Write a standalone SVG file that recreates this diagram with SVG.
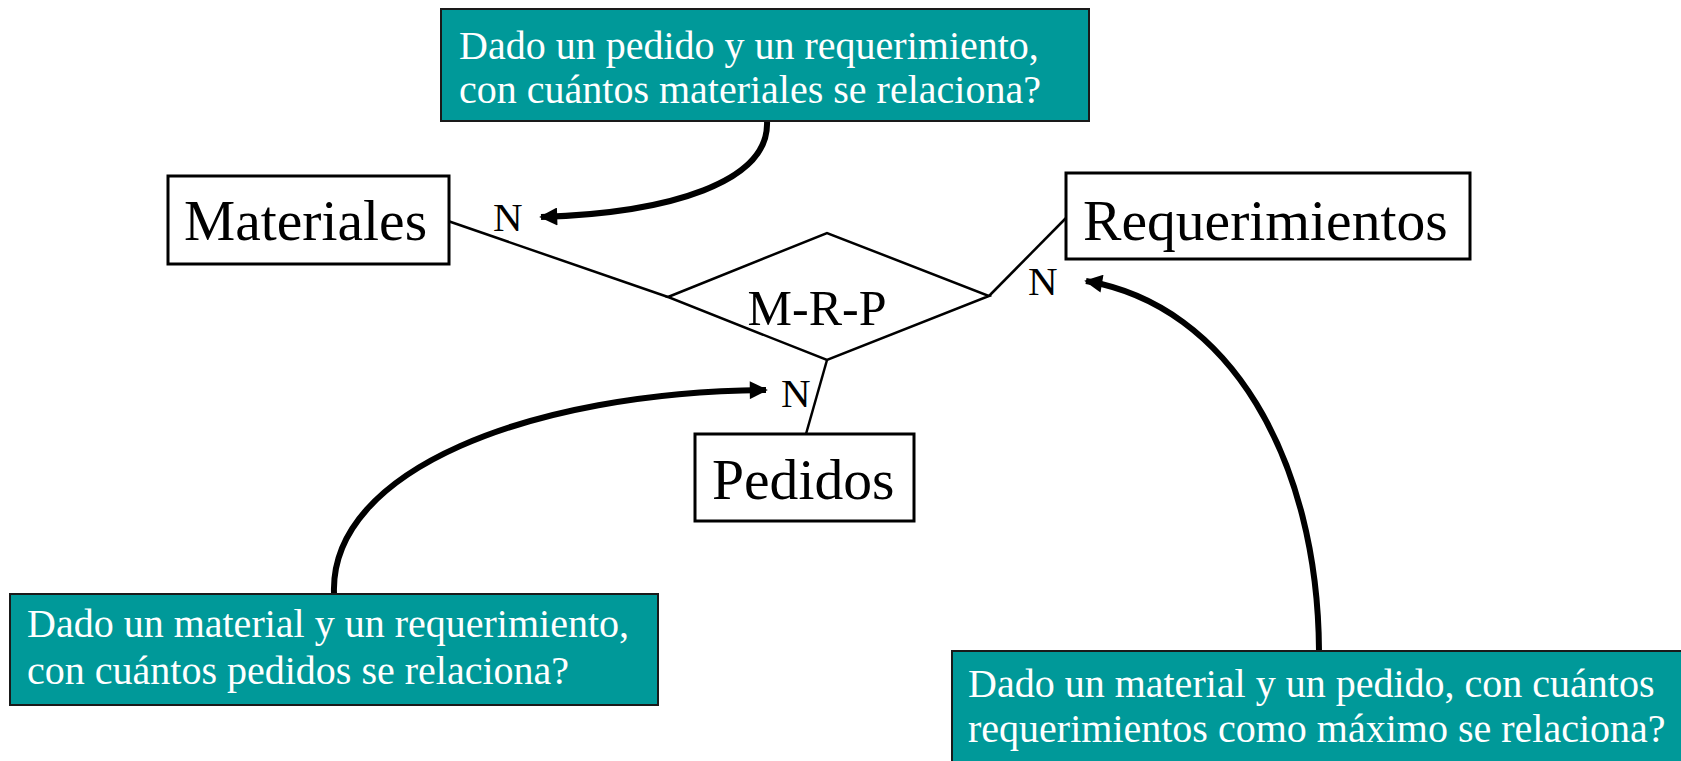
<svg xmlns="http://www.w3.org/2000/svg" width="1681" height="761" viewBox="0 0 1681 761">
<style>
.ent{fill:#fff;stroke:#000;stroke-width:3}
.rel{fill:#fff;stroke:#000;stroke-width:2.5}
.note{fill:#009999;stroke:#1a1a1a;stroke-width:2}
.big{font-family:"Liberation Serif","Times New Roman",serif;font-size:57.6px;fill:#000}
.mid{font-family:"Liberation Serif","Times New Roman",serif;font-size:50px;fill:#000}
.card{font-family:"Liberation Serif","Times New Roman",serif;font-size:41px;fill:#000}
.nt{font-family:"Liberation Serif","Times New Roman",serif;font-size:40px;fill:#fff}
.ln{fill:none;stroke:#000;stroke-width:2.5}
.arr{fill:none;stroke:#000;stroke-width:6;marker-end:url(#ah)}
</style>
<defs>
<marker id="ah" viewBox="0 0 10 10" refX="9" refY="5" markerWidth="3.4" markerHeight="3" orient="auto" markerUnits="strokeWidth">
<path d="M0,0 L10,5 L0,10 z" fill="#000"/>
</marker>
</defs>
<rect width="1681" height="761" fill="#fff"/>
<g id="connectors">
<line class="ln" x1="448" y1="221" x2="668" y2="297"/>
<line class="ln" x1="989" y1="296" x2="1066" y2="218"/>
<line class="ln" x1="827" y1="360" x2="806" y2="434"/>
<path class="arr" d="M767,121 C770,182 670,213 541,217"/>
<path class="arr" d="M334,593 C330,470 530,392 766,390"/>
<path class="arr" d="M1319,651 C1318,460 1230,305 1086,281"/>
</g>
<g id="materiales">
<rect class="ent" x="168" y="176" width="281" height="88"/>
<text class="big" x="184" y="240">Materiales</text>
</g>
<g id="requerimientos">
<rect class="ent" x="1066" y="173" width="404" height="86"/>
<text class="big" x="1083" y="240">Requerimientos</text>
</g>
<g id="pedidos">
<rect class="ent" x="695" y="434" width="219" height="87"/>
<text class="big" x="712" y="499">Pedidos</text>
</g>
<g id="mrp">
<polygon class="rel" points="668,297 827,233 989,296 827,360"/>
<text class="mid" x="817" y="325" text-anchor="middle">M-R-P</text>
</g>
<g id="cardinalities">
<text class="card" x="493" y="231">N</text>
<text class="card" x="1028" y="295">N</text>
<text class="card" x="781" y="407">N</text>
</g>
<g id="note-top">
<rect class="note" x="441" y="9" width="648" height="112"/>
<text class="nt" x="459" y="59">Dado un pedido y un requerimiento,</text>
<text class="nt" x="459" y="103">con cuántos materiales se relaciona?</text>
</g>
<g id="note-left">
<rect class="note" x="10" y="594" width="648" height="111"/>
<text class="nt" x="27" y="637">Dado un material y un requerimiento,</text>
<text class="nt" x="27" y="684">con cuántos pedidos se relaciona?</text>
</g>
<g id="note-right">
<rect class="note" x="952" y="651" width="740" height="120"/>
<text class="nt" x="968" y="697">Dado un material y un pedido, con cuántos</text>
<text class="nt" x="968" y="742">requerimientos como máximo se relaciona?</text>
</g>
</svg>
